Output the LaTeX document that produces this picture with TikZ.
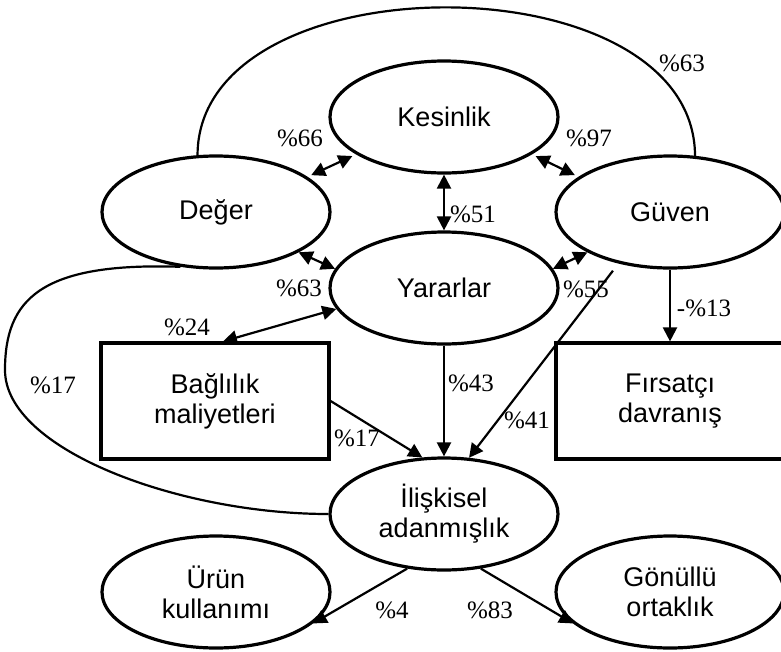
\documentclass[tikz,border=0pt]{standalone}
\usepackage{fontspec}
\setmainfont{Liberation Serif}
\setsansfont{Liberation Sans}
\usetikzlibrary{arrows.meta}
\usetikzlibrary{positioning}
\usetikzlibrary{shapes.geometric}

\tikzset{
  latent/.style={ellipse, draw, line width=3.2pt, minimum width=228pt, minimum height=112pt,
    inner sep=0pt, align=center, font=\sffamily\fontsize{27}{30}\selectfont},
  observed/.style={rectangle, draw, line width=3.2pt, minimum width=228pt, minimum height=116pt,
    inner sep=0pt, align=center, font=\sffamily\fontsize{27}{30}\selectfont},
  coef/.style={inner sep=0pt, font=\fontsize{25}{27}\selectfont},
  link/.style={line width=2.2pt}
}

\begin{document}
\begin{tikzpicture}[x=1pt,y=-1pt,->,>={Triangle[length=14pt,width=14pt]}]
        \useasboundingbox (0,0) rectangle (781,651);

        \node[latent] (kes) at (444,117) {Kesinlik};
        \node[latent] (deg) at (216,212) {Değer};
        \node[latent] (guv) at (670,212) {Güven};
        \node[latent] (yar) at (444,288) {Yararlar};
        \node[observed] (bag) at (215,401) {Bağlılık\\maliyetleri};
        \node[observed] (fir) at (670,401) {Fırsatçı\\davranış};
        \node[latent] (ili) at (444,514) {İlişkisel\\adanmışlık};
        \node[latent] (uru) at (216,592) {Ürün\\kullanımı};
        \node[latent] (gon) at (670,592) {Gönüllü\\ortaklık};

        \draw[link,-] (deg.108) .. controls (198,-42) and (694,-42) .. (guv.66);
        \draw[link,-] (deg.237) .. controls (40,262) and (5,300) .. (5,370)
                .. controls (5,450) and (180,514) .. (ili.west);

        \draw[link,<->,shorten <=4pt,shorten >=4pt] (deg.21) -- (kes.203);
        \draw[link,<->,shorten <=4pt,shorten >=4pt] (kes.337) -- (guv.159);
        \draw[link,<->] (kes) -- (yar);
        \draw[link,<->] (deg.-26) -- (yar.170);
        \draw[link,<->] (guv.206) -- (yar.10);
        \draw[link,<->] (yar.191) -- ([xshift=8pt]bag.north);
        \draw[link] (guv) -- (fir);
        \draw[link,shorten <=9pt] (guv.225) -- (ili.66);
        \draw[link] (yar) -- (ili);
        \draw[link] (bag.east) -- (ili.111);
        \draw[link] (ili.236) -- (uru.-18);
        \draw[link] (ili.304) -- (gon.198);

        \node[coef] (c1) at (682,63) {\%63};
        \node[coef] (c2) at (300,138) {\%66};
        \node[coef] (c3) at (589,138) {\%97};
        \node[coef] (c4) at (473,214) {\%51};
        \node[coef] (c5) at (299,288) {\%63};
        \node[coef] (c6) at (586,289) {\%55};
        \node[coef] (c7) at (704,308) {-\%13};
        \node[coef] (c8) at (187,327) {\%24};
        \node[coef] (c9) at (53,385) {\%17};
        \node[coef] (c10) at (471,383) {\%43};
        \node[coef] (c11) at (527,420) {\%41};
        \node[coef] (c12) at (357,438) {\%17};
        \node[coef] (c13) at (392,610) {\%4};
        \node[coef] (c14) at (490,610) {\%83};
\end{tikzpicture}
\end{document}
